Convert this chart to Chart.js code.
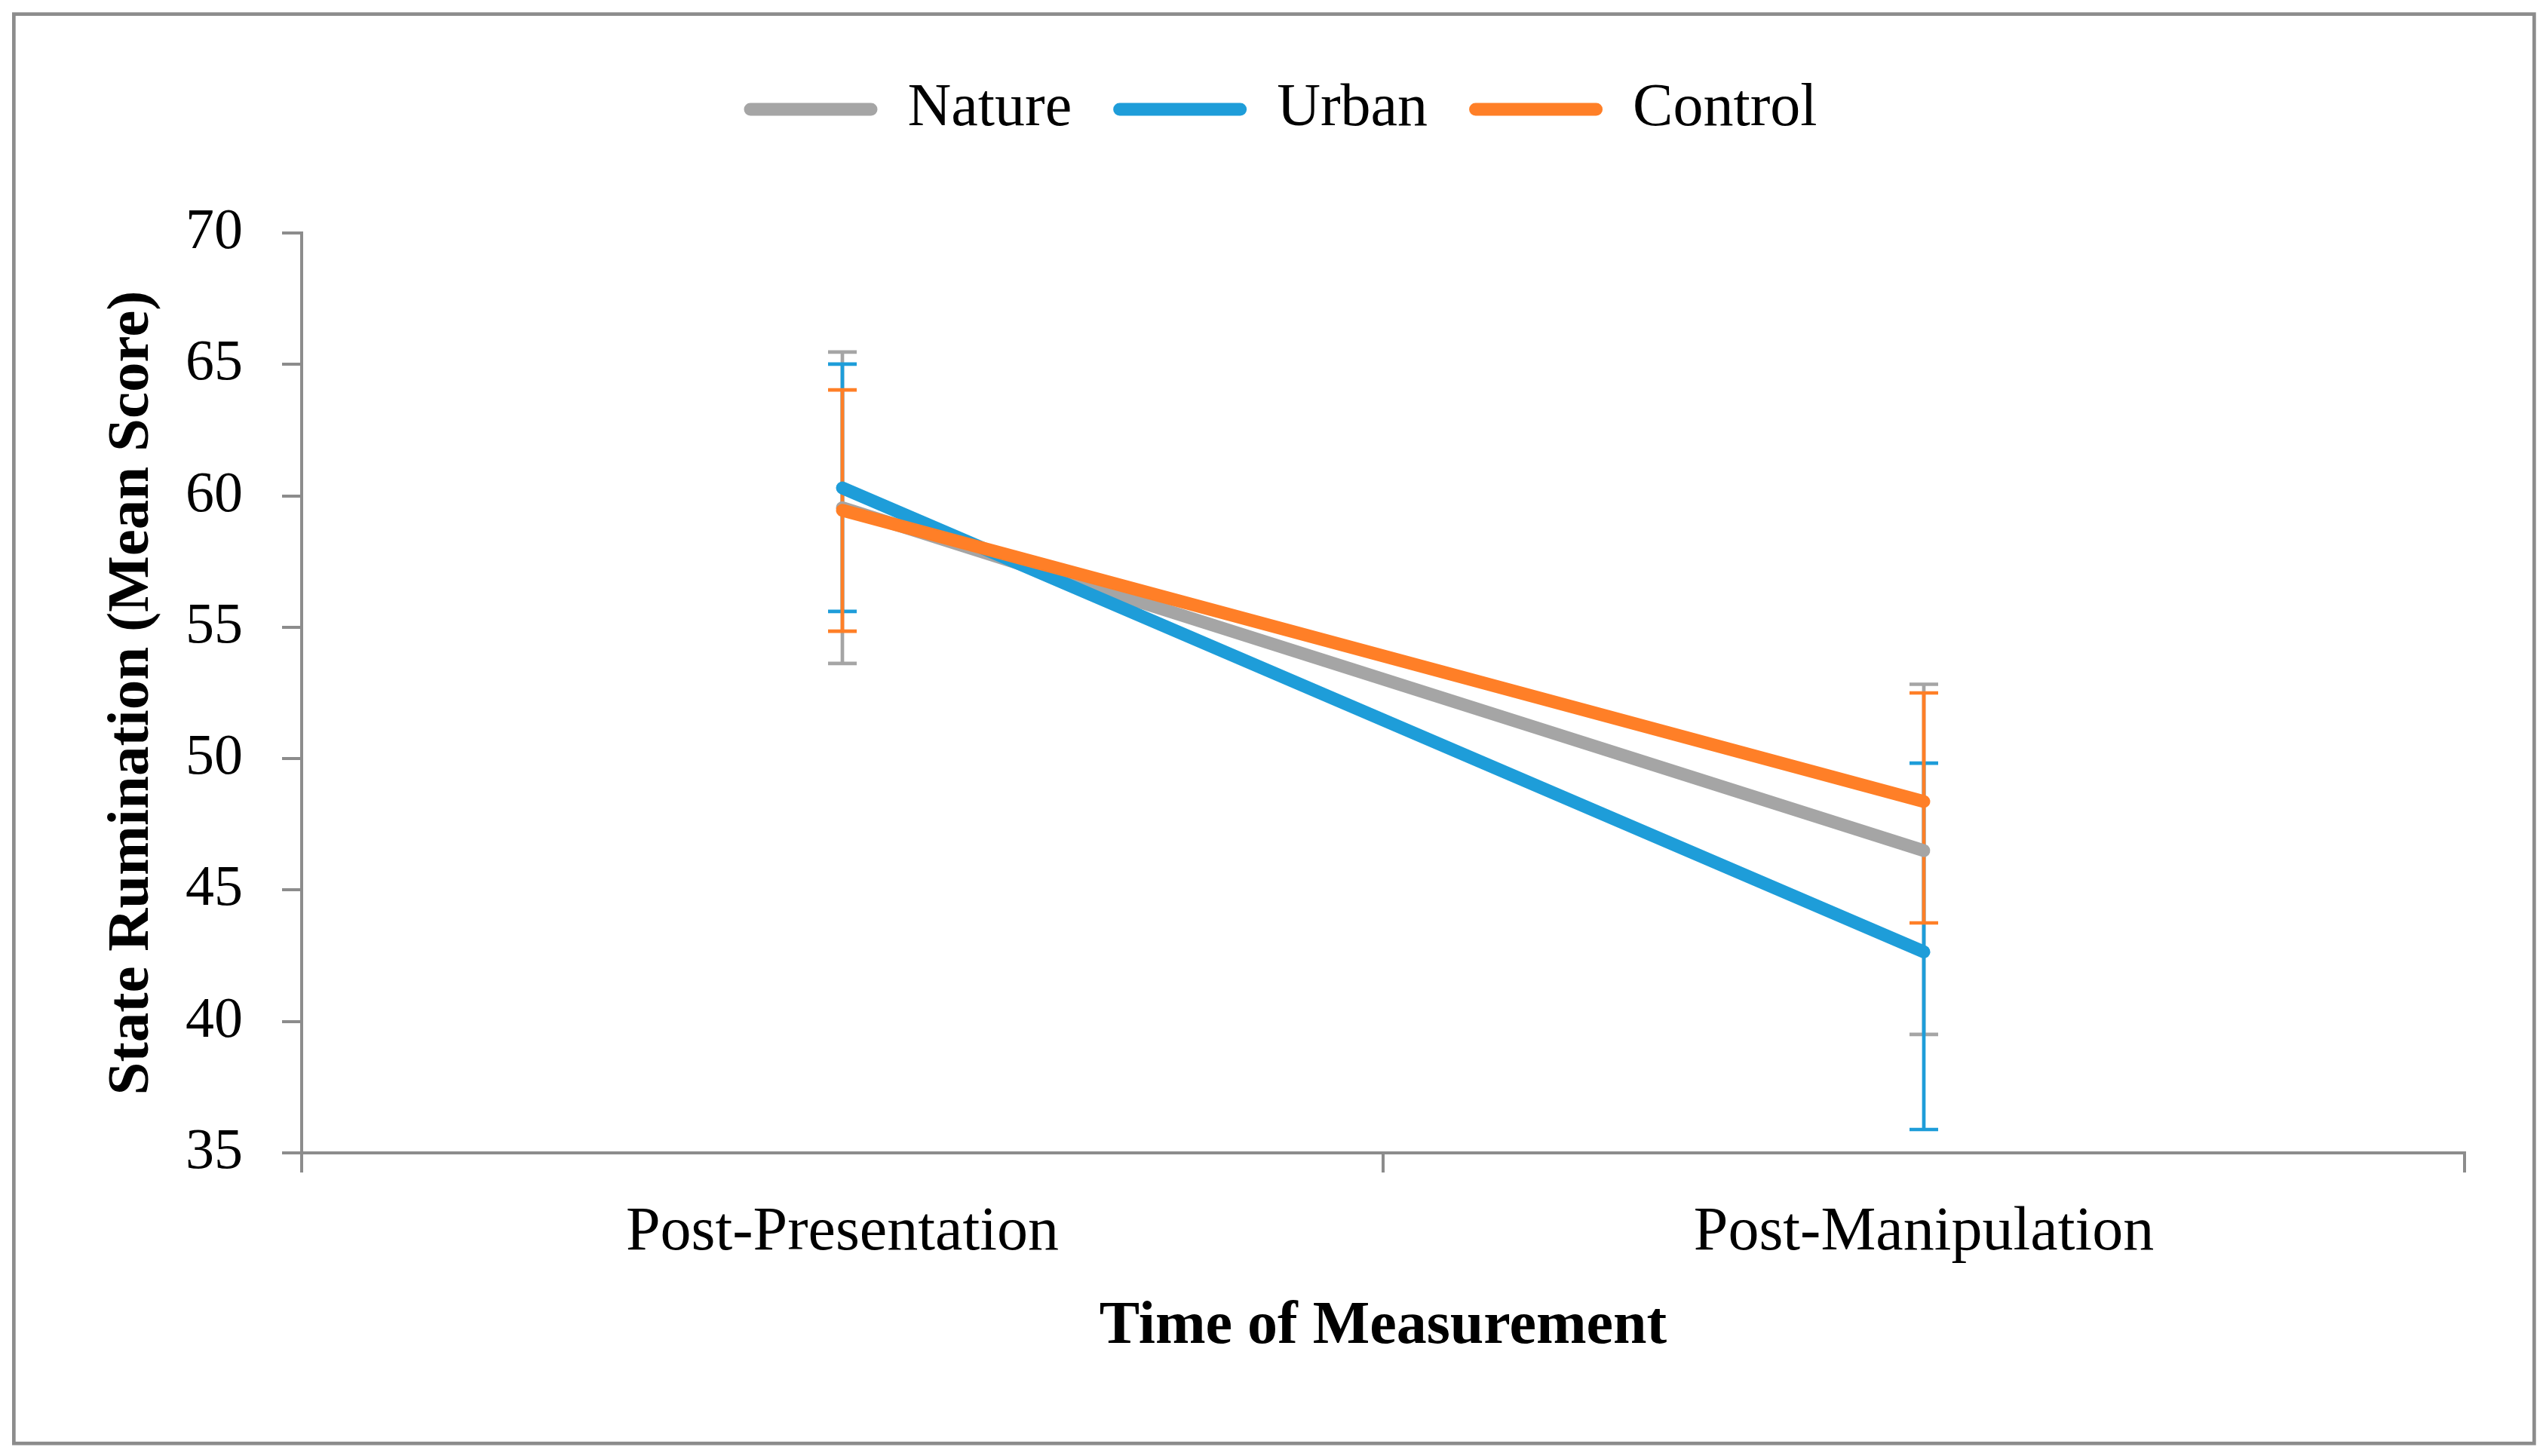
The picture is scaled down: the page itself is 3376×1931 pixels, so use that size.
<!DOCTYPE html>
<html>
<head>
<meta charset="utf-8">
<script src="https://cdn.jsdelivr.net/npm/chart.js@4.4.1/dist/chart.umd.min.js"></script>
<style>
  html, body { margin: 0; padding: 0; background: #fff; }
  #wrap { width: 3376px; height: 1931px; }
</style>
</head>
<body>
<div id="wrap"><canvas id="c" width="3376" height="1931"></canvas></div>
<script>
const categories = ['Post-Presentation', 'Post-Manipulation'];
const seriesNames = ['Nature', 'Urban', 'Control'];
const natureValues = [59.55, 46.5];
const natureUpper = [65.47, 52.83];
const natureLower = [53.62, 39.51];
const urbanValues = [60.3, 42.65];
const urbanUpper = [65.01, 49.83];
const urbanLower = [55.6, 35.89];
const controlValues = [59.45, 48.37];
const controlUpper = [64.03, 52.5];
const controlLower = [54.85, 43.75];
const yTicks = [35, 40, 45, 50, 55, 60, 65, 70];
const yTitle = 'State Rumination (Mean Score)';
const xTitle = 'Time of Measurement';

const colors = ['#A5A5A5', '#1E9DD9', '#FF7F27'];
const FONT = "'Liberation Serif', 'Times New Roman', serif";
const AXIS = '#8C8C8C';

const values = [natureValues, urbanValues, controlValues];
const uppers = [natureUpper, urbanUpper, controlUpper];
const lowers = [natureLower, urbanLower, controlLower];

const datasets = seriesNames.map((name, i) => ({
  label: name,
  data: values[i],
  borderColor: colors[i],
  backgroundColor: colors[i],
  borderWidth: 17,
  borderCapStyle: 'round',
  borderJoinStyle: 'round',
  pointRadius: 0,
  pointHoverRadius: 0,
  tension: 0,
  order: seriesNames.length - i
}));

const frame = {
  id: 'frame',
  beforeDraw(chart) {
    const ctx = chart.ctx;
    ctx.save();
    ctx.fillStyle = '#fff';
    ctx.fillRect(0, 0, chart.width, chart.height);
    ctx.strokeStyle = AXIS;
    ctx.lineWidth = 4.7;
    ctx.strokeRect(18.35, 18.7, 3342, 1895.6);
    ctx.restore();
  }
};

const errorBars = {
  id: 'errorBars',
  beforeDatasetsDraw(chart) {
    const ctx = chart.ctx;
    const ys = chart.scales.y;
    ctx.save();
    ctx.lineWidth = 4.7;
    ctx.lineCap = 'butt';
    for (let i = 0; i < chart.data.datasets.length; i++) {
      const meta = chart.getDatasetMeta(i);
      ctx.strokeStyle = chart.data.datasets[i].borderColor;
      meta.data.forEach((pt, j) => {
        const x = pt.x;
        const yHi = ys.getPixelForValue(uppers[i][j]);
        const yLo = ys.getPixelForValue(lowers[i][j]);
        ctx.beginPath();
        ctx.moveTo(x, yHi); ctx.lineTo(x, yLo);
        ctx.moveTo(x - 19, yHi); ctx.lineTo(x + 19, yHi);
        ctx.moveTo(x - 19, yLo); ctx.lineTo(x + 19, yLo);
        ctx.stroke();
      });
    }
    ctx.restore();
  }
};

new Chart(document.getElementById('c'), {
  type: 'line',
  data: { labels: categories, datasets },
  options: {
    responsive: false,
    animation: false,
    devicePixelRatio: 1,
    layout: { padding: { left: 128, right: 108, top: 50, bottom: 0 } },
    plugins: {
      tooltip: { enabled: false },
      subtitle: {
        display: true,
        text: '',
        weight: 500,
        position: 'top',
        font: { size: 1, lineHeight: 1 },
        padding: { top: 113, bottom: 0 }
      },
      legend: {
        display: true,
        position: 'top',
        align: 'center',
        weight: 1000,
        labels: {
          font: { family: FONT, size: 80 },
          color: '#000',
          boxWidth: 177,
          boxHeight: 17,
          padding: 55,
          useBorderRadius: true,
          borderRadius: 8.5,
          sort: (a, b) => a.datasetIndex - b.datasetIndex,
          generateLabels: (chart) =>
            Chart.defaults.plugins.legend.labels.generateLabels(chart).map(l => ({
              ...l, fillStyle: chart.data.datasets[l.datasetIndex].borderColor, lineWidth: 0, strokeStyle: 'rgba(0,0,0,0)'
            }))
        }
      }
    },
    scales: {
      x: {
        type: 'category',
        offset: true,
        grid: { display: true, offset: true, drawOnChartArea: false, drawTicks: true, tickLength: 26, color: AXIS, lineWidth: 4 },
        border: { display: true, color: AXIS, width: 4 },
        ticks: { font: { family: FONT, size: 82 }, color: '#000', padding: 31, maxRotation: 0, autoSkip: false },
        title: { display: true, text: xTitle, font: { family: FONT, size: 80, weight: 'bold' }, color: '#000', padding: { top: 0, bottom: 123 } },
        afterFit(s) { s.height = 402; }
      },
      y: {
        min: yTicks[0],
        max: yTicks[yTicks.length - 1],
        afterBuildTicks(s) { s.ticks = yTicks.map(v => ({ value: v })); },
        grid: { display: true, drawOnChartArea: false, drawTicks: true, tickLength: 26, color: AXIS, lineWidth: 4 },
        border: { display: true, color: AXIS, width: 4 },
        ticks: { font: { family: FONT, size: 76 }, color: '#000', padding: 52 },
        title: { display: true, text: yTitle, font: { family: FONT, size: 79, weight: 'bold' }, color: '#000', padding: { top: 0, bottom: 0 } },
        afterFit(s) { s.width = 272; }
      }
    }
  },
  plugins: [frame, errorBars]
});
</script>
</body>
</html>
